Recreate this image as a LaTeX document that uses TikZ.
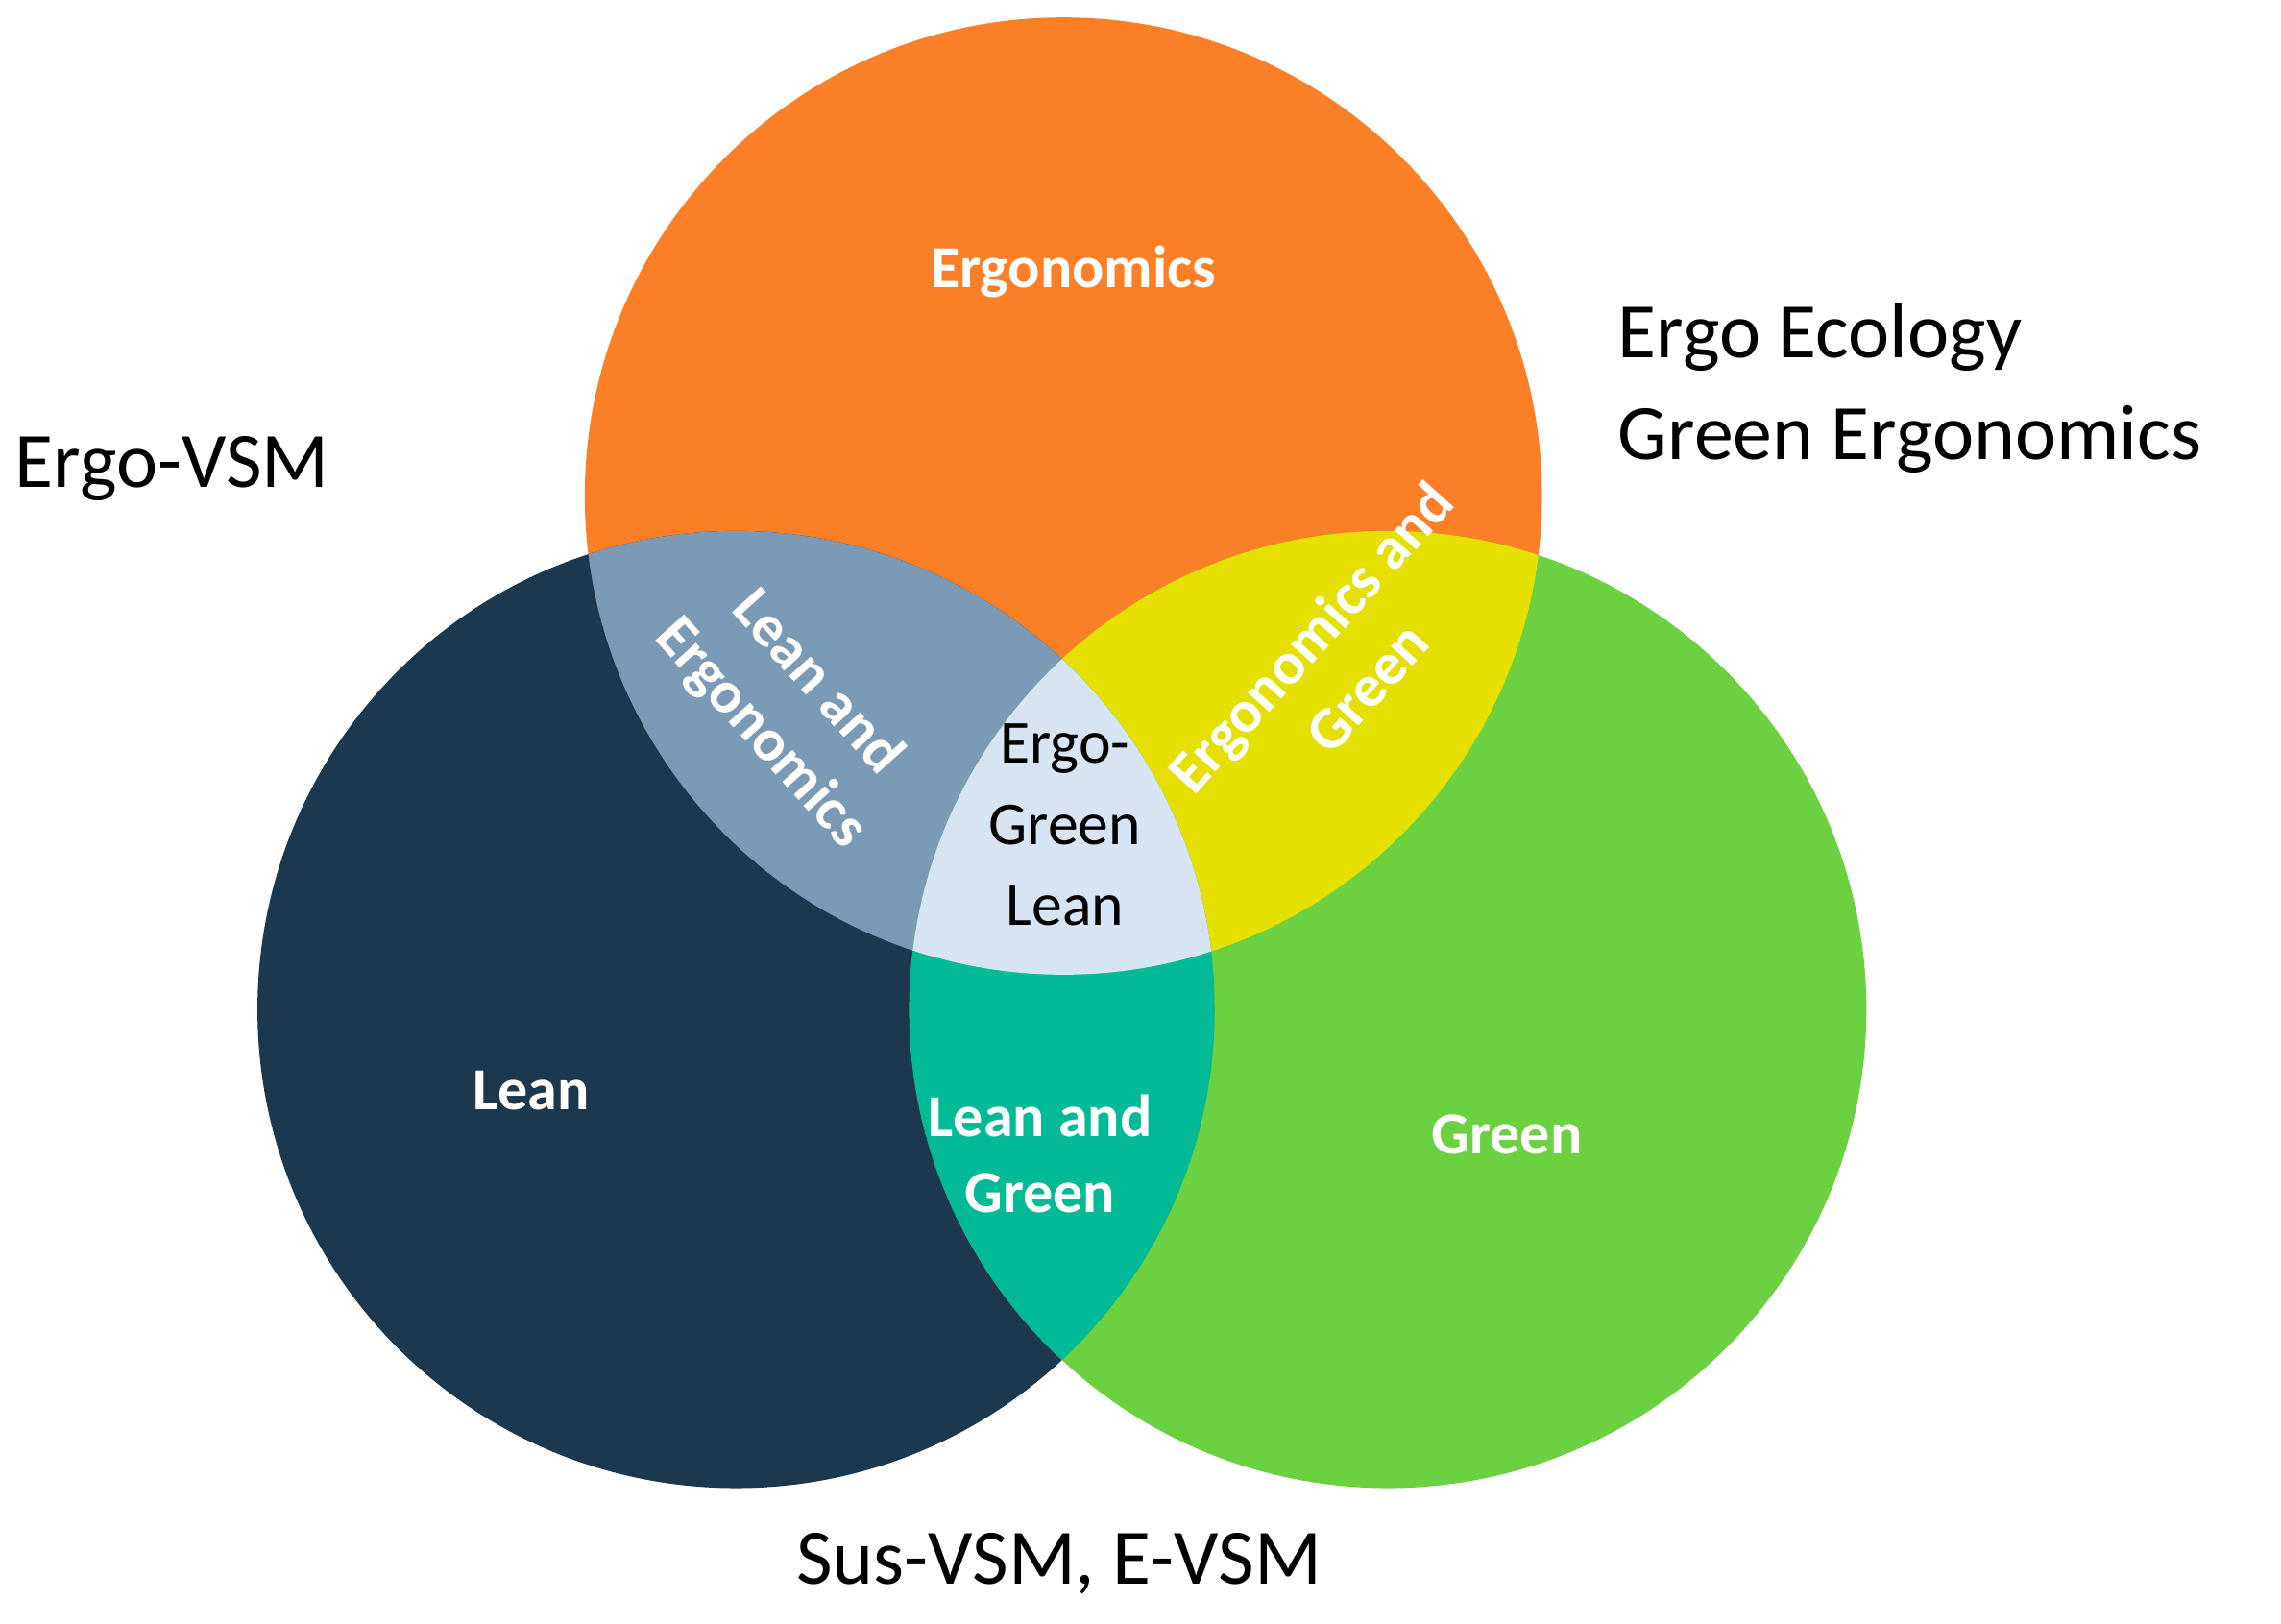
\documentclass[tikz,border=0pt]{standalone}
\usepackage{fontspec}
\setmainfont{Carlito}
\definecolor{cOr}{HTML}{FB7F26}
\definecolor{cNv}{HTML}{1C384E}
\definecolor{cGr}{HTML}{6CD141}
\definecolor{cLE}{HTML}{7B9AB6}
\definecolor{cEG}{HTML}{E5E000}
\definecolor{cLG}{HTML}{02BA96}
\definecolor{cC}{HTML}{D6E4F3}
\begin{document}
\begin{tikzpicture}[x=0.5pt,y=-0.5pt,
  wl/.style={text=white,font=\fontsize{20.5}{26}\selectfont\bfseries,align=center,inner sep=0pt},
  bl/.style={text=black,font=\fontsize{21}{28}\selectfont,align=center,inner sep=0pt},
  ol/.style={text=black,font=\fontsize{27}{35}\selectfont,align=left,inner sep=0pt}]
\useasboundingbox (0,0) rectangle (1568,1116);
\def\E{(731,341) circle[radius=329]}
\def\L{(506,694) circle[radius=329]}
\def\G{(954,694) circle[radius=329]}
\fill[cOr] \E;
\fill[cNv] \L;
\fill[cGr] \G;
\begin{scope}\clip \E; \fill[cLE] \L; \fill[cEG] \G; \end{scope}
\begin{scope}\clip \L; \fill[cLG] \G; \end{scope}
\begin{scope}\clip \E; \clip \L; \fill[cC] \G; \end{scope}
\node[wl] (ergo) at (738,187) {Ergonomics};
\node[wl] (lean) at (365,750) {Lean};
\node[wl] (green) at (1036,780) {Green};
\node[wl] (lg) at (715,793) {Lean and\\Green};
\node[wl,rotate=-48] (le) at (542,487) {Lean and\\Ergonomics};
\node[wl,rotate=48] (eg) at (920,455) {Ergonomics and\\Green};
\node[bl] (c) at (732,567) {Ergo-\\Green\\Lean};
\node[ol,anchor=west] (ev) at (10,322) {Ergo-VSM};
\node[ol,anchor=west] (ee) at (1112,267) {Ergo Ecology\\Green Ergonomics};
\node[ol] (sv) at (728,1075) {Sus-VSM, E-VSM};
\end{tikzpicture}
\end{document}
